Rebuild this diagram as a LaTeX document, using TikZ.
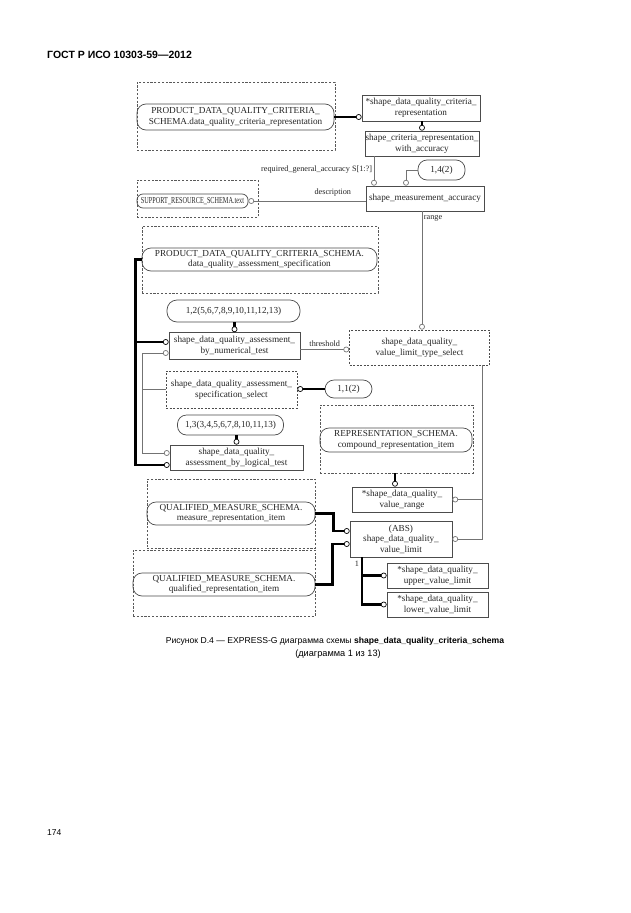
\documentclass[tikz,border=0pt]{standalone}
\usepackage{fontspec}
\setmainfont{Liberation Serif}
\newfontfamily\sansfont{Liberation Sans}
\usepackage{graphicx}
\usepackage{xcolor}
\usepackage{tikz}
\usetikzlibrary{arrows.meta, positioning, calc}

\definecolor{boxgray}{gray}{0.3}
\definecolor{linegray}{gray}{0.45}
\definecolor{grpgray}{gray}{0.35}

\newcommand{\dgfont}{\fontsize{9.2}{10.6}\selectfont}
\newcommand{\lblfont}{\fontsize{8.2}{9.5}\selectfont}

\tikzset{
  ocirc/.tip={Circle[open, fill=white, length=5.8pt, width=5.8pt, line width=0.7pt 0 0]},
  entity/.style={draw=boxgray, line width=0.7pt, align=center, font=\dgfont, inner sep=0.5pt, text=black!85},
  selectbox/.style={entity, dash pattern=on 2pt off 1.5pt},
  remote/.style={entity, rounded corners=9pt},
  pageref/.style={entity, rounded corners=9pt},
  schemagrp/.style={draw=grpgray, line width=0.6pt, dash pattern=on 2.2pt off 1.6pt, inner sep=0pt},
  fat/.style={line width=2.4pt, black},
  slim/.style={line width=0.9pt, linegray},
  lbl/.style={font=\lblfont, inner sep=1.5pt, text=black!85}
}

\begin{document}
\begin{tikzpicture}[x=1pt, y=-1pt]

  \fill[white] (0,0) rectangle (630,913);
  \useasboundingbox (0,0) rectangle (630,913);

  % page header
  \node[font=\sansfont\bfseries\fontsize{10.5}{12}\selectfont, anchor=west, inner sep=0pt] (hdr) at (47,55) {ГОСТ Р ИСО 10303-59—2012};

  % schema groups
  \node[schemagrp, minimum width=198pt, minimum height=68pt] (grpA) at (236,116) {};
  \node[schemagrp, minimum width=121pt, minimum height=37pt] (grpE) at (197.5,198.5) {};
  \node[schemagrp, minimum width=236pt, minimum height=67pt] (grpF) at (260,259.5) {};
  \node[schemagrp, minimum width=153pt, minimum height=68pt] (grpK) at (396.5,439) {};
  \node[schemagrp, minimum width=168pt, minimum height=69pt] (grpN) at (231,513.5) {};
  \node[schemagrp, minimum width=182pt, minimum height=66pt] (grpO) at (224,583) {};

  % remote references
  \node[remote, minimum width=197pt, minimum height=26pt] (dqcRep) at (235.5,117) {PRODUCT\_DATA\_QUALITY\_CRITERIA\_\\SCHEMA.data\_quality\_criteria\_representation};
  \node[remote, minimum width=111pt, minimum height=14pt, rounded corners=6pt] (srsText) at (192.5,201) {\scalebox{0.68}[1]{SUPPORT\_RESOURCE\_SCHEMA.text}};
  \node[remote, minimum width=235pt, minimum height=23pt] (dqaSpec) at (259.5,259.5) {PRODUCT\_DATA\_QUALITY\_CRITERIA\_SCHEMA.\\data\_quality\_assessment\_specification};
  \node[remote, minimum width=152pt, minimum height=24pt] (compRep) at (396,440) {REPRESENTATION\_SCHEMA.\\compound\_representation\_item};
  \node[remote, minimum width=168pt, minimum height=23pt] (measRep) at (231,513.5) {QUALIFIED\_MEASURE\_SCHEMA.\\measure\_representation\_item};
  \node[remote, minimum width=182pt, minimum height=23pt] (qualRep) at (224,584.5) {QUALIFIED\_MEASURE\_SCHEMA.\\qualified\_representation\_item};

  % entities, selects and page references
  \node[entity, minimum width=118pt, minimum height=26pt] (critRep) at (421,108) {*shape\_data\_quality\_criteria\_\\representation};
  \node[entity, minimum width=112pt, minimum height=25pt] (critAcc) at (422,143.5) {shape\_criteria\_representation\_\\with\_accuracy};
  \node[pageref, minimum width=47pt, minimum height=20pt] (pg14) at (441.5,170) {1,4(2)};
  \node[entity, minimum width=118pt, minimum height=25pt] (measAcc) at (425,198.5) {shape\_measurement\_accuracy};
  \node[pageref, minimum width=133pt, minimum height=22pt, rounded corners=10pt] (pg12) at (233.5,311) {1,2(5,6,7,8,9,10,11,12,13)};
  \node[entity, minimum width=131pt, minimum height=27pt] (numTest) at (234.5,346) {shape\_data\_quality\_assessment\_\\by\_numerical\_test};
  \node[selectbox, minimum width=140pt, minimum height=35pt] (limSel) at (419.5,347.5) {shape\_data\_quality\_\\value\_limit\_type\_select};
  \node[selectbox, minimum width=131pt, minimum height=37pt] (specSel) at (231.5,389.5) {shape\_data\_quality\_assessment\_\\specification\_select};
  \node[pageref, minimum width=47pt, minimum height=18pt] (pg11) at (348.5,389) {1,1(2)};
  \node[pageref, minimum width=106pt, minimum height=20pt] (pg13) at (230.5,425) {1,3(3,4,5,6,7,8,10,11,13)};
  \node[entity, minimum width=133pt, minimum height=25pt] (logTest) at (236.5,457.5) {shape\_data\_quality\_\\assessment\_by\_logical\_test};
  \node[entity, minimum width=100pt, minimum height=25pt] (valRange) at (402,499.5) {*shape\_data\_quality\_\\value\_range};
  \node[entity, minimum width=102pt, minimum height=36pt] (valLimit) at (401,539) {(ABS)\\shape\_data\_quality\_\\value\_limit};
  \node[entity, minimum width=101pt, minimum height=25pt] (upLimit) at (437.5,575.5) {*shape\_data\_quality\_\\upper\_value\_limit};
  \node[entity, minimum width=101pt, minimum height=25pt] (lowLimit) at (437.5,604.5) {*shape\_data\_quality\_\\lower\_value\_limit};

  % relations, top part
  \draw[fat, -ocirc] (dqcRep.east) -- (dqcRep.east -| critRep.west);
  \draw[fat, -ocirc] (critAcc.north |- critRep.south) -- (critAcc.north);
  \draw[slim, -ocirc] ([xshift=-48pt]critAcc.south) -- ([xshift=-48pt]critAcc.south |- measAcc.north)
    node[lbl, pos=0.45, left] {required\_general\_accuracy S[1:?]};
  \draw[slim, -ocirc] (pg14.west) -| ([xshift=-19pt]measAcc.north);
  \draw[slim, -ocirc] (srsText.east -| measAcc.west) -- (srsText.east)
    node[lbl, pos=0.28, above=3pt] {description};
  \draw[slim, -ocirc] ([xshift=-3pt]measAcc.south) -- ([xshift=-3pt]measAcc.south |- limSel.north)
    node[lbl, pos=0.06, right] {range};

  % assessment subtypes
  \draw[fat, -ocirc] (dqaSpec.west) -- ++(-6,0) |- ([yshift=-7.5pt]logTest.west);
  \draw[fat, -ocirc] ($(dqaSpec.west)+(-6,0)$) |- ([yshift=4pt]numTest.west);
  \draw[slim, -ocirc] (specSel.west) -- ++(-23.5,0) |- ([yshift=-7pt]numTest.west);
  \draw[slim, -ocirc] ($(specSel.west)+(-23.5,0)$) |- ([yshift=4.5pt]logTest.west);
  \draw[fat, -ocirc] (numTest.north |- pg12.south) -- (numTest.north);
  \draw[fat, -ocirc] (logTest.north |- pg13.south) -- (logTest.north);
  \draw[fat, -ocirc] (pg11.west) -- (pg11.west -| specSel.east);
  \draw[slim, -ocirc] ([yshift=-2pt]limSel.west -| numTest.east) -- ([yshift=-2pt]limSel.west)
    node[lbl, midway, above=1pt] {threshold};

  % value limits
  \draw[slim, -ocirc] ([xshift=62.5pt]limSel.south) |- (valLimit.east);
  \draw[slim, -ocirc] ([xshift=62.5pt]limSel.south |- valRange.east) -- (valRange.east);
  \draw[fat, -ocirc] ([xshift=-7pt]valRange.north |- grpK.south) -- ([xshift=-7pt]valRange.north);
  \draw[fat, -ocirc] (measRep.east) -- ++(18,0) |- ([yshift=8pt]valLimit.west);
  \draw[fat, -ocirc] (qualRep.east) -- ++(17,0) |- ([yshift=-5pt]valLimit.west);
  \draw[fat, -ocirc] ([xshift=-39pt]valLimit.south) |- (lowLimit.west);
  \draw[fat, -ocirc] ([xshift=-39pt]valLimit.south |- upLimit.west) -- (upLimit.west);
  \node[lbl] (oneOf) at (357,564) {1};

  % caption and page number
  \node[font=\sansfont\fontsize{8.6}{13}\selectfont, inner sep=0pt] (cap) at (335,641)
    {Рисунок D.4 — EXPRESS-G диаграмма схемы \textbf{shape\_data\_quality\_criteria\_schema}};
  \node[font=\sansfont\fontsize{9.2}{13}\selectfont, inner sep=0pt] (capTwo) at (338,654) {(диаграмма 1 из 13)};
  \node[font=\sansfont\fontsize{8.5}{10}\selectfont, anchor=west, inner sep=0pt] (pgno) at (47,833) {174};

\end{tikzpicture}
\end{document}
